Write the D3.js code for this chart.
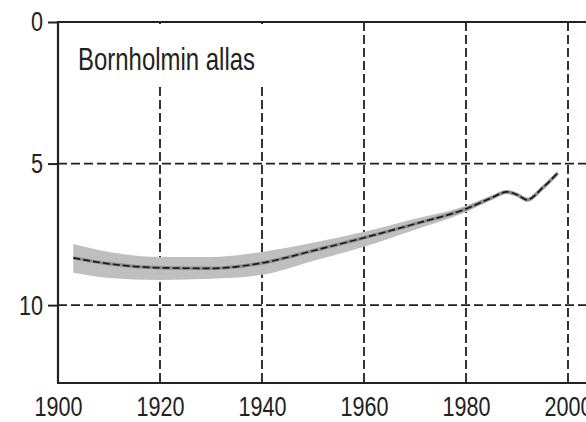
<!DOCTYPE html>
<html>
<head>
<meta charset="utf-8">
<script src="https://cdn.jsdelivr.net/npm/d3@7"></script>
<style>
  html, body { margin: 0; padding: 0; background: #fff; overflow: hidden; }
  svg { display: block; font-family: "Liberation Sans", Arial, sans-serif; }
</style>
</head>
<body>
<div id="chart"></div>
<script>
// values (y axis is inverted: 0 at top)
const years = [1903, 1910, 1920, 1930, 1940, 1950, 1960, 1970, 1980, 1985, 1988, 1990, 1992, 1995, 1998];
const mean  = [8.33, 8.54, 8.68, 8.70, 8.51, 8.08, 7.62, 7.13, 6.60, 6.21, 6.00, 6.10, 6.28, 5.86, 5.33];
const lower = [7.84, 8.12, 8.30, 8.30, 8.12, 7.80, 7.41, 6.95, 6.49, 6.13, 5.93, 6.03, 6.21, 5.79, 5.27];
const upper = [8.86, 9.04, 9.11, 9.07, 8.93, 8.44, 7.94, 7.34, 6.71, 6.29, 6.07, 6.17, 6.35, 5.93, 5.39];

const xTicks = [1900, 1920, 1940, 1960, 1980, 2000];
const yTicks = [0, 5, 10];
const title = 'Bornholmin allas';

const W = 586, H = 422;
const margin = { left: 58, top: 22, bottom: 383, right: 640 };

const svg = d3.select('#chart').append('svg')
  .attr('width', W)
  .attr('height', H);

const x = d3.scaleLinear().domain([1900, 2000]).range([margin.left, 568]);
const y = d3.scaleLinear().domain([0, 12.75]).range([margin.top, margin.bottom]);

const data = years.map((yr, i) => ({ year: yr, mean: mean[i], lo: lower[i], hi: upper[i] }));

// grid
const gridDash = '9,4';
svg.append('g').selectAll('line')
  .data(xTicks.filter(d => d > 1900))
  .enter().append('line')
  .attr('x1', d => x(d)).attr('x2', d => x(d))
  .attr('y1', margin.top).attr('y2', margin.bottom)
  .attr('stroke', '#1e1e1e').attr('stroke-width', 1.8)
  .attr('stroke-dasharray', gridDash);

svg.append('g').selectAll('line')
  .data(yTicks.filter(d => d > 0))
  .enter().append('line')
  .attr('x1', margin.left).attr('x2', margin.right)
  .attr('y1', d => y(d)).attr('y2', d => y(d))
  .attr('stroke', '#1e1e1e').attr('stroke-width', 1.8)
  .attr('stroke-dasharray', gridDash);

// title box hides the top of the grid
svg.append('rect')
  .attr('x', margin.left + 2).attr('y', margin.top + 2)
  .attr('width', 240).attr('height', 61)
  .attr('fill', '#fff');

svg.append('text')
  .attr('x', 78).attr('y', 70)
  .attr('font-size', 32)
  .attr('fill', '#222')
  .attr('textLength', 177)
  .attr('lengthAdjust', 'spacingAndGlyphs')
  .text(title);

// band and line
const band = d3.area()
  .x(d => x(d.year))
  .y0(d => y(d.lo))
  .y1(d => y(d.hi))
  .curve(d3.curveMonotoneX);

svg.append('path')
  .datum(data)
  .attr('d', band)
  .attr('fill', '#bfbfbf');

const line = d3.line()
  .x(d => x(d.year))
  .y(d => y(d.mean))
  .curve(d3.curveMonotoneX);

svg.append('path')
  .datum(data)
  .attr('d', line)
  .attr('fill', 'none')
  .attr('stroke', '#8f8f8f')
  .attr('stroke-width', 3.5);

svg.append('path')
  .datum(data)
  .attr('d', line)
  .attr('fill', 'none')
  .attr('stroke', '#1a1a1a')
  .attr('stroke-width', 1.7)
  .attr('stroke-dasharray', '7,3');

// frame
svg.append('path')
  .attr('d', `M${margin.right},${margin.top}H${margin.left}V${margin.bottom}H${margin.right}`)
  .attr('fill', 'none')
  .attr('stroke', '#222')
  .attr('stroke-width', 2.2);

// axes
const yAxis = svg.append('g')
  .attr('transform', `translate(${margin.left},0)`)
  .call(d3.axisLeft(y).tickValues(yTicks).tickSize(10).tickSizeOuter(0).tickPadding(5));

const xAxis = svg.append('g')
  .attr('transform', `translate(0,${margin.bottom})`)
  .call(d3.axisBottom(x).tickValues(xTicks).tickSize(0).tickPadding(13).tickFormat(d3.format('d')));

[yAxis, xAxis].forEach(g => {
  g.select('.domain').remove();
  g.selectAll('.tick line').attr('stroke', '#222').attr('stroke-width', 2);
  g.selectAll('.tick text')
    .attr('font-size', 28)
    .attr('font-family', '"Liberation Sans", Arial, sans-serif')
    .attr('fill', '#222')
    .attr('textLength', d => String(d).length * 12)
    .attr('lengthAdjust', 'spacingAndGlyphs');
});
</script>
</body>
</html>
